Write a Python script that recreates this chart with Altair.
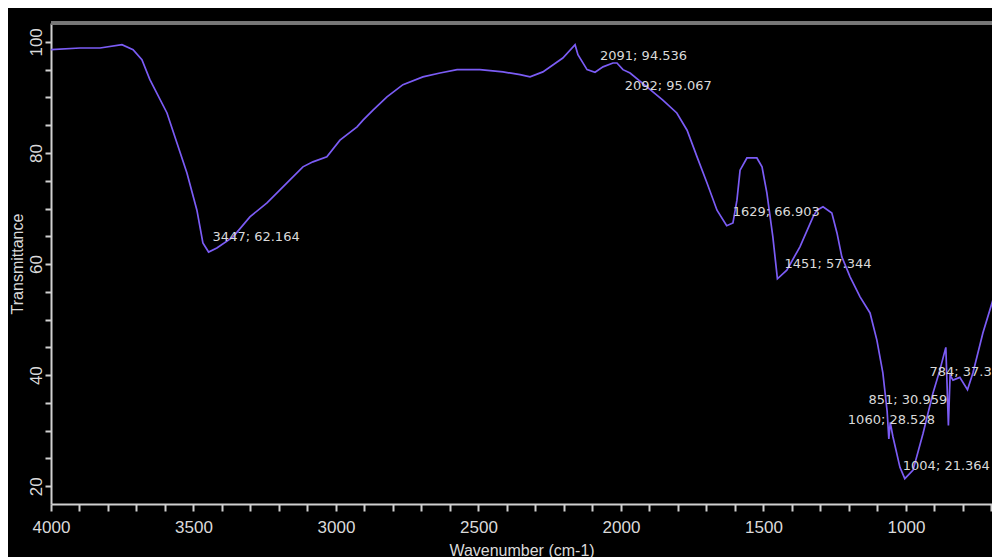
import altair as alt
import pandas as pd

# Spectrum trace (wavenumber cm-1, transmittance %)
wavenumber = [4000, 3898, 3828, 3751, 3712, 3681, 3653, 3593, 3558, 3523, 3488, 3467,
              3447, 3418, 3361, 3302, 3242, 3172, 3116, 3081, 3032, 2986, 2926, 2905,
              2870, 2821, 2765, 2695, 2635, 2575, 2495, 2414, 2354, 2319, 2274, 2204,
              2161, 2151, 2119, 2091, 2063, 2028, 2014, 1993, 1968, 1909, 1853, 1804,
              1768, 1733, 1698, 1663, 1629, 1607, 1593, 1582, 1558, 1523, 1505, 1488,
              1467, 1451, 1418, 1372, 1326, 1312, 1291, 1260, 1242, 1225, 1196, 1161,
              1126, 1102, 1081, 1066, 1060, 1055, 1046, 1021, 1004, 975, 940, 905,
              881, 860, 851, 845, 835, 811, 784, 765, 730, 695, 670]
transmittance = [98.6, 98.9, 98.9, 99.5, 98.6, 96.8, 93.2, 87.2, 81.8, 76.4, 69.7, 63.8,
                 62.16, 62.9, 64.9, 68.5, 71.0, 74.6, 77.5, 78.4, 79.3, 82.3, 84.7, 85.9,
                 87.7, 90.1, 92.3, 93.7, 94.4, 95.0, 95.0, 94.6, 94.1, 93.7, 94.6, 97.1,
                 99.5, 97.7, 95.0, 94.54, 95.5, 96.2, 96.2, 95.0, 94.4, 91.9, 89.5, 87.2,
                 84.1, 79.3, 74.6, 69.7, 66.9, 67.4, 71.5, 76.9, 79.1, 79.1, 77.5, 72.8,
                 64.9, 57.34, 58.9, 63.1, 68.5, 69.7, 70.3, 69.2, 65.6, 61.3, 57.7, 54.1,
                 51.2, 46.3, 40.4, 33.5, 28.53, 31.5, 29.0, 23.4, 21.36, 22.9, 29.5, 36.8,
                 40.9, 45.0, 30.96, 40.0, 39.1, 39.6, 37.36, 40.4, 47.6, 53.5, 46.3]

# Peak annotations
peak_wn = [3447, 2091, 2092, 1629, 1451, 1060, 851, 784, 1004]
peak_t = [62.164, 94.536, 95.067, 66.903, 57.344, 28.528, 30.959, 37.36, 21.364]
peak_text = ["3447; 62.164", "2091; 94.536", "2092; 95.067", "1629; 66.903",
             "1451; 57.344", "1060; 28.528", "851; 30.959", "784; 37.36", "1004; 21.364"]
# label offsets (pixels) for each annotation
label_offsets = [(4, -15), (5, -16), (30, 17), (6, -14), (7, -15),
                 (-41, -19), (-80, -25), (-38, -18), (-2, -13)]

x_ticks = list(range(700, 4001, 100))
y_ticks = list(range(20, 101, 5))

W, H = 941, 481
FONT = "Liberation Sans"
ANN_FONT = "DejaVu Sans"
TXT = "#dadada"

spec = pd.DataFrame({"wn": wavenumber, "t": transmittance})
peaks = pd.DataFrame({"wn": peak_wn, "t": peak_t, "label": peak_text})

xscale = alt.Scale(domain=[698, 4000], reverse=True, nice=False, zero=False)
yscale = alt.Scale(domain=[16.8, 103.4], nice=False, zero=False)

x_axis = alt.Axis(
    title="Wavenumber (cm-1)", values=x_ticks, format="d",
    labelExpr="datum.value % 500 == 0 ? datum.label : ''",
    grid=False, domainColor="#d0d0d0", domainWidth=2, tickColor="#d0d0d0",
    tickWidth=2, tickSize=7, labelPadding=8, labelColor=TXT, labelFont=FONT,
    labelFontSize=17, titleColor=TXT, titleFont=FONT, titleFontSize=16,
    titleFontWeight="normal", titlePadding=7, labelFlush=False, labelOverlap=False,
)
y_axis = alt.Axis(
    title="Transmittance", values=y_ticks,
    labelExpr="datum.value % 20 == 0 ? datum.label : ''",
    grid=False, domainColor="#d0d0d0", domainWidth=2, tickColor="#d0d0d0",
    tickWidth=2, tickSize=6, labelPadding=4, labelAngle=270, labelAlign="center",
    labelBaseline="alphabetic", labelColor=TXT, labelFont=FONT, labelFontSize=17,
    titleColor=TXT, titleFont=FONT, titleFontSize=16, titleFontWeight="normal",
    titlePadding=2, labelFlush=False, labelOverlap=False,
)

line = alt.Chart(spec).mark_line(color="#7b5cf5", strokeWidth=1.7, clip=True).encode(
    x=alt.X("wn:Q", scale=xscale, axis=x_axis),
    y=alt.Y("t:Q", scale=yscale, axis=y_axis),
)

top_border = alt.Chart(spec).mark_rule(color="#777777", strokeWidth=3).encode(
    x=alt.value(0), x2=alt.value(W), y=alt.value(0)
)

layers = [top_border, line]
for i, (dx, dy) in enumerate(label_offsets):
    sub = peaks.iloc[[i]]
    layers.append(
        alt.Chart(sub).mark_text(
            align="left", baseline="middle", dx=dx, dy=dy, color=TXT,
            font=ANN_FONT, fontSize=13,
        ).encode(
            x=alt.X("wn:Q", scale=xscale, axis=x_axis),
            y=alt.Y("t:Q", scale=yscale, axis=y_axis),
            text="label:N",
        )
    )

chart = alt.layer(*layers).properties(
    width=W, height=H, background="black",
    autosize=alt.AutoSizeParams(type="none"),
    padding={"left": 43, "top": 15, "right": 0, "bottom": 53},
).configure_view(stroke=None).configure_axis(labelOverlap=False)

chart.save("out.html", embed_options={"renderer": "svg", "actions": False})
